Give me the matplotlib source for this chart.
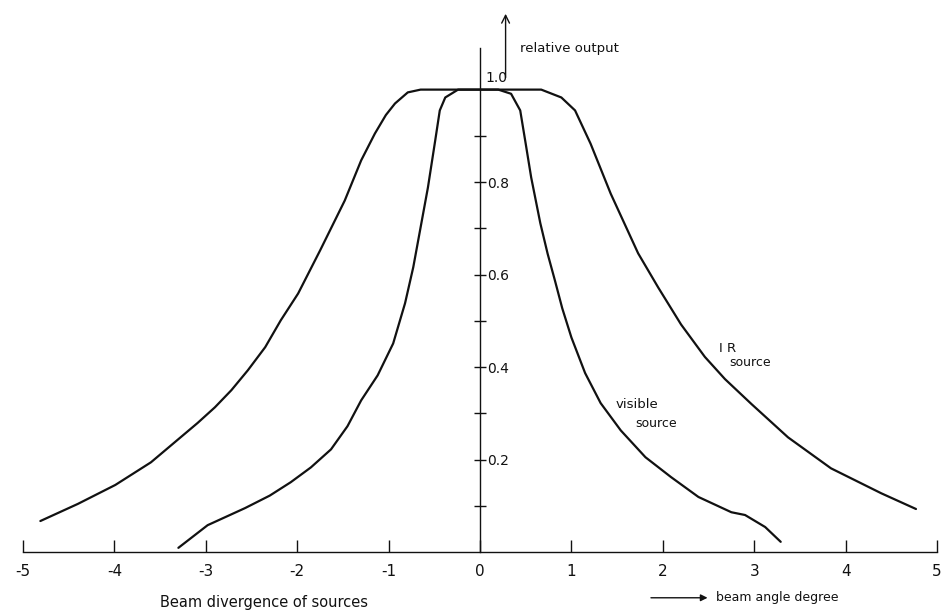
import matplotlib
matplotlib.use("Agg")
import matplotlib.pyplot as plt

# ---- data ----
ir_x = [-4.81, -4.40, -3.99, -3.60, -3.09, -2.90, -2.72, -2.54, -2.35, -2.18,
        -1.99, -1.75, -1.48, -1.30, -1.15, -1.03, -0.93, -0.79, -0.65, 0.67,
        0.89, 1.04, 1.21, 1.43, 1.73, 1.95, 2.20, 2.46, 2.68, 2.97,
        3.37, 3.84, 4.39, 4.77]
ir_y = [0.067, 0.104, 0.145, 0.194, 0.279, 0.313, 0.350, 0.393, 0.443, 0.501,
        0.559, 0.652, 0.760, 0.847, 0.905, 0.945, 0.970, 0.994, 1.0, 1.0,
        0.983, 0.955, 0.883, 0.775, 0.646, 0.572, 0.492, 0.422, 0.374, 0.320,
        0.248, 0.181, 0.127, 0.093]

vis_x = [-3.30, -2.98, -2.57, -2.30, -2.07, -1.85, -1.63, -1.45, -1.30, -1.12,
         -0.95, -0.82, -0.73, -0.65, -0.57, -0.49, -0.44, -0.38, -0.24, 0.20,
         0.34, 0.44, 0.50, 0.56, 0.66, 0.74, 0.82, 0.90, 1.00, 1.15,
         1.32, 1.54, 1.81, 2.09, 2.39, 2.75, 2.90, 3.12, 3.29]
vis_y = [0.009, 0.058, 0.095, 0.122, 0.151, 0.183, 0.222, 0.272, 0.328, 0.382,
         0.451, 0.538, 0.616, 0.702, 0.788, 0.890, 0.955, 0.983, 1.0, 1.0,
         0.991, 0.955, 0.883, 0.810, 0.711, 0.645, 0.587, 0.527, 0.464, 0.387,
         0.322, 0.263, 0.205, 0.162, 0.119, 0.086, 0.080, 0.054, 0.022]

x_ticks = [-5, -4, -3, -2, -1, 0, 1, 2, 3, 4, 5]
x_tick_labels = ["-5", "-4", "-3", "-2", "-1", "0", "1", "2", "3", "4", "5"]
y_ticks = [0.1, 0.2, 0.3, 0.4, 0.5, 0.6, 0.7, 0.8, 0.9]
y_tick_labels = ["", "0.2", "", "0.4", "", "0.6", "", "0.8", ""]
y_top_label = "1.0"

plt.rcParams['font.family'] = ['DejaVu Sans']

fig = plt.figure(figsize=(9.48, 6.14), dpi=100)
ax = fig.add_axes([23 / 948, 62 / 614, 914 / 948, (614 - 48 - 62) / 614])
ax.set_xlim(-5, 5)
ax.set_ylim(0, 1.09)

lc = "#111111"
ax.plot(ir_x, ir_y, color=lc, lw=1.6, solid_capstyle='round', solid_joinstyle='round')
ax.plot(vis_x, vis_y, color=lc, lw=1.6, solid_capstyle='round', solid_joinstyle='round')

# axes styling
ax.spines['top'].set_visible(False)
ax.spines['left'].set_visible(False)
ax.spines['bottom'].set_linewidth(1.0)
ax.spines['bottom'].set_color(lc)
ax.spines['right'].set_position(('data', 0))
ax.spines['right'].set_linewidth(1.0)
ax.spines['right'].set_color(lc)

ax.set_xticks(x_ticks)
ax.set_xticklabels(x_tick_labels)
ax.tick_params(axis='x', direction='in', length=9, width=1.0, pad=9,
               labelsize=11, colors=lc)

ax.yaxis.set_ticks_position('right')
ax.set_yticks(y_ticks)
ax.set_yticklabels(y_tick_labels)
ax.tick_params(axis='y', direction='inout', length=8, width=1.0, pad=1,
               labelsize=10, colors=lc)

ax.text(0.06, 1.026, y_top_label, fontsize=10, ha='left', va='center', color=lc)

# relative output arrow
ax.annotate("", xy=(0.28, 1.17), xytext=(0.28, 1.02),
            arrowprops=dict(arrowstyle='->', lw=1.0, color=lc, mutation_scale=14),
            annotation_clip=False)
ax.text(0.44, 1.089, "relative output", fontsize=9.5, ha='left', va='center',
        color=lc, clip_on=False)

# curve labels
ax.text(2.62, 0.44, "I R", fontsize=9.5, ha='left', va='center', color=lc)
ax.text(2.73, 0.41, "source", fontsize=9, ha='left', va='center', color=lc)
ax.text(1.48, 0.32, "visible", fontsize=9.5, ha='left', va='center', color=lc)
ax.text(1.70, 0.278, "source", fontsize=9, ha='left', va='center', color=lc)

# bottom texts
ax.text(-2.36, -0.11, "Beam divergence of sources", fontsize=10.5, ha='center',
        va='center', color=lc, clip_on=False)
ax.annotate("", xy=(2.52, -0.099), xytext=(1.84, -0.099),
            arrowprops=dict(arrowstyle='-|>', lw=1.0, color=lc, mutation_scale=10),
            annotation_clip=False)
ax.text(2.58, -0.099, "beam angle degree", fontsize=9, ha='left', va='center',
        color=lc, clip_on=False)

fig.savefig("out.png", dpi=100)
